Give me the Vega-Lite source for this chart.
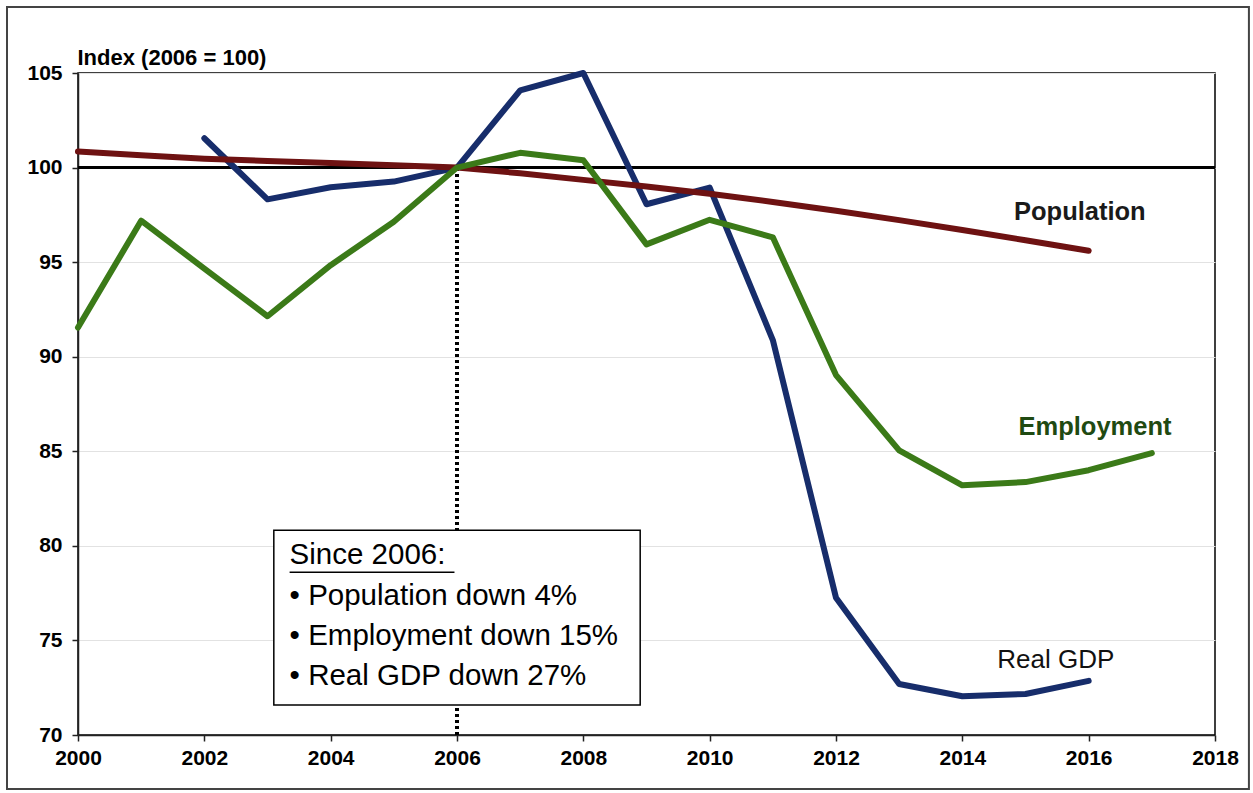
{
  "$schema": "https://vega.github.io/schema/vega-lite/v6.json",
  "width": 1137,
  "height": 662,
  "autosize": {"type": "none"},
  "padding": {"left": 78, "top": 73, "right": 38, "bottom": 58},
  "background": "white",
  "config": {
    "font": "Liberation Sans",
    "view": {"stroke": "black", "strokeWidth": 1.5},
    "axis": {"labelFont": "Liberation Sans", "labelFontWeight": "bold", "labelColor": "black", "labelFontSize": 21, "tickColor": "#222", "domainColor": "#222", "tickSize": 6, "tickWidth": 1.5, "domainWidth": 1.5}
  },
  "datasets": {
    "series": [
      {"year": 2002, "value": 101.55, "series": "Real GDP"},
      {"year": 2003, "value": 98.32, "series": "Real GDP"},
      {"year": 2004, "value": 98.96, "series": "Real GDP"},
      {"year": 2005, "value": 99.26, "series": "Real GDP"},
      {"year": 2006, "value": 100.0, "series": "Real GDP"},
      {"year": 2007, "value": 104.08, "series": "Real GDP"},
      {"year": 2008, "value": 105.0, "series": "Real GDP"},
      {"year": 2009, "value": 98.06, "series": "Real GDP"},
      {"year": 2010, "value": 98.94, "series": "Real GDP"},
      {"year": 2011, "value": 90.88, "series": "Real GDP"},
      {"year": 2012, "value": 77.26, "series": "Real GDP"},
      {"year": 2013, "value": 72.7, "series": "Real GDP"},
      {"year": 2014, "value": 72.05, "series": "Real GDP"},
      {"year": 2015, "value": 72.17, "series": "Real GDP"},
      {"year": 2016, "value": 72.86, "series": "Real GDP"},
      {"year": 2000, "value": 100.85, "series": "Population"},
      {"year": 2001, "value": 100.65, "series": "Population"},
      {"year": 2002, "value": 100.47, "series": "Population"},
      {"year": 2003, "value": 100.35, "series": "Population"},
      {"year": 2004, "value": 100.24, "series": "Population"},
      {"year": 2005, "value": 100.12, "series": "Population"},
      {"year": 2006, "value": 100.0, "series": "Population"},
      {"year": 2007, "value": 99.7, "series": "Population"},
      {"year": 2008, "value": 99.35, "series": "Population"},
      {"year": 2009, "value": 99.0, "series": "Population"},
      {"year": 2010, "value": 98.62, "series": "Population"},
      {"year": 2011, "value": 98.18, "series": "Population"},
      {"year": 2012, "value": 97.72, "series": "Population"},
      {"year": 2013, "value": 97.22, "series": "Population"},
      {"year": 2014, "value": 96.7, "series": "Population"},
      {"year": 2015, "value": 96.16, "series": "Population"},
      {"year": 2016, "value": 95.6, "series": "Population"},
      {"year": 2000, "value": 91.54, "series": "Employment"},
      {"year": 2001, "value": 97.19, "series": "Employment"},
      {"year": 2002, "value": 94.66, "series": "Employment"},
      {"year": 2003, "value": 92.14, "series": "Employment"},
      {"year": 2004, "value": 94.84, "series": "Employment"},
      {"year": 2005, "value": 97.14, "series": "Employment"},
      {"year": 2006, "value": 100.0, "series": "Employment"},
      {"year": 2007, "value": 100.78, "series": "Employment"},
      {"year": 2008, "value": 100.39, "series": "Employment"},
      {"year": 2009, "value": 95.94, "series": "Employment"},
      {"year": 2010, "value": 97.24, "series": "Employment"},
      {"year": 2011, "value": 96.31, "series": "Employment"},
      {"year": 2012, "value": 89.03, "series": "Employment"},
      {"year": 2013, "value": 85.05, "series": "Employment"},
      {"year": 2014, "value": 83.2, "series": "Employment"},
      {"year": 2015, "value": 83.37, "series": "Employment"},
      {"year": 2016, "value": 84.0, "series": "Employment"},
      {"year": 2017, "value": 84.9, "series": "Employment"}
    ],
    "labels": [
      {"x": 2015.86, "y": 97.65, "text": "Population", "color": "#1a1a1a", "bold": true},
      {"x": 2016.1, "y": 86.28, "text": "Employment", "color": "#1f4a12", "bold": true},
      {"x": 2015.48, "y": 73.96, "text": "Real GDP", "color": "#111111", "bold": false}
    ],
    "boxlines": [
      {"x": 2003.35, "y": 79.5, "text": "Since 2006:"},
      {"x": 2003.35, "y": 77.34, "text": "•  Population down 4%"},
      {"x": 2003.35, "y": 75.23, "text": "•  Employment down 15%"},
      {"x": 2003.35, "y": 73.11, "text": "•  Real GDP down 27%"}
    ]
  },
  "layer": [
    {
      "data": {"values": [{"x1": 1998.876, "x2": 2018.537, "y1": 108.49, "y2": 67.145}]},
      "mark": {"type": "rect", "fill": null, "stroke": "#444444", "strokeWidth": 2, "clip": false},
      "encoding": {
        "x": {"field": "x1", "type": "quantitative", "scale": {"domain": [2000, 2018], "nice": false, "zero": false}},
        "x2": {"field": "x2"},
        "y": {"field": "y1", "type": "quantitative", "scale": {"domain": [70, 105], "nice": false, "zero": false}},
        "y2": {"field": "y2"}
      }
    },
    {
      "data": {"name": "series"},
      "mark": {"type": "rule", "color": "black", "strokeWidth": 3.5, "strokeDash": [3, 3]},
      "encoding": {
        "x": {"datum": 2006, "type": "quantitative"},
        "y": {"datum": 70, "type": "quantitative"},
        "y2": {"datum": 100}
      }
    },
    {
      "data": {"name": "series"},
      "mark": {"type": "rule", "color": "black", "strokeWidth": 2.5},
      "encoding": {
        "y": {"datum": 100, "type": "quantitative"}
      }
    },
    {
      "data": {"name": "series"},
      "mark": {"type": "line", "strokeWidth": 6, "strokeCap": "round", "strokeJoin": "round"},
      "encoding": {
        "x": {
          "field": "year", "type": "quantitative",
          "scale": {"domain": [2000, 2018], "nice": false, "zero": false},
          "axis": {"values": [2000, 2002, 2004, 2006, 2008, 2010, 2012, 2014, 2016, 2018], "format": "d", "title": null, "grid": false, "labelPadding": 6, "labelFlush": false}
        },
        "y": {
          "field": "value", "type": "quantitative",
          "scale": {"domain": [70, 105], "nice": false, "zero": false},
          "axis": {"values": [70, 75, 80, 85, 90, 95, 100, 105], "grid": true, "gridColor": "#e2e2e2", "gridWidth": 1, "labelPadding": 10,
            "title": "Index (2006 = 100)", "titleAngle": 0, "titleX": -1, "titleY": -4, "titleAlign": "left", "titleBaseline": "bottom", "titleFontSize": 22, "titleFontWeight": "bold", "titleColor": "black", "titleFont": "Liberation Sans"}
        },
        "color": {
          "field": "series", "type": "nominal",
          "scale": {"domain": ["Real GDP", "Population", "Employment"], "range": ["#172d6b", "#6e1212", "#3b7a18"]},
          "legend": null
        },
        "order": {"field": "year"}
      }
    },
    {
      "data": {"name": "labels"},
      "transform": [{"filter": "datum.bold"}],
      "mark": {"type": "text", "fontSize": 25.5, "fontWeight": "bold", "align": "center", "baseline": "middle"},
      "encoding": {
        "x": {"field": "x", "type": "quantitative"},
        "y": {"field": "y", "type": "quantitative"},
        "text": {"field": "text"},
        "color": {"field": "color", "type": "nominal", "scale": null}
      }
    },
    {
      "data": {"name": "labels"},
      "transform": [{"filter": "!datum.bold"}],
      "mark": {"type": "text", "fontSize": 26, "align": "center", "baseline": "middle"},
      "encoding": {
        "x": {"field": "x", "type": "quantitative"},
        "y": {"field": "y", "type": "quantitative"},
        "text": {"field": "text"},
        "color": {"field": "color", "type": "nominal", "scale": null}
      }
    },
    {
      "data": {"values": [{"x1": 2003.1, "x2": 2008.9, "y1": 80.83, "y2": 71.58}]},
      "mark": {"type": "rect", "fill": "white", "stroke": "black", "strokeWidth": 1.5},
      "encoding": {
        "x": {"field": "x1", "type": "quantitative"},
        "x2": {"field": "x2"},
        "y": {"field": "y1", "type": "quantitative"},
        "y2": {"field": "y2"}
      }
    },
    {
      "data": {"name": "boxlines"},
      "mark": {"type": "text", "fontSize": 29.5, "align": "left", "baseline": "middle", "color": "black"},
      "encoding": {
        "x": {"field": "x", "type": "quantitative"},
        "y": {"field": "y", "type": "quantitative"},
        "text": {"field": "text"}
      }
    },
    {
      "data": {"values": [{"x1": 2003.35, "x2": 2005.96, "y": 78.6}]},
      "mark": {"type": "rule", "color": "black", "strokeWidth": 1.5},
      "encoding": {
        "x": {"field": "x1", "type": "quantitative"},
        "x2": {"field": "x2"},
        "y": {"field": "y", "type": "quantitative"}
      }
    }
  ]
}
